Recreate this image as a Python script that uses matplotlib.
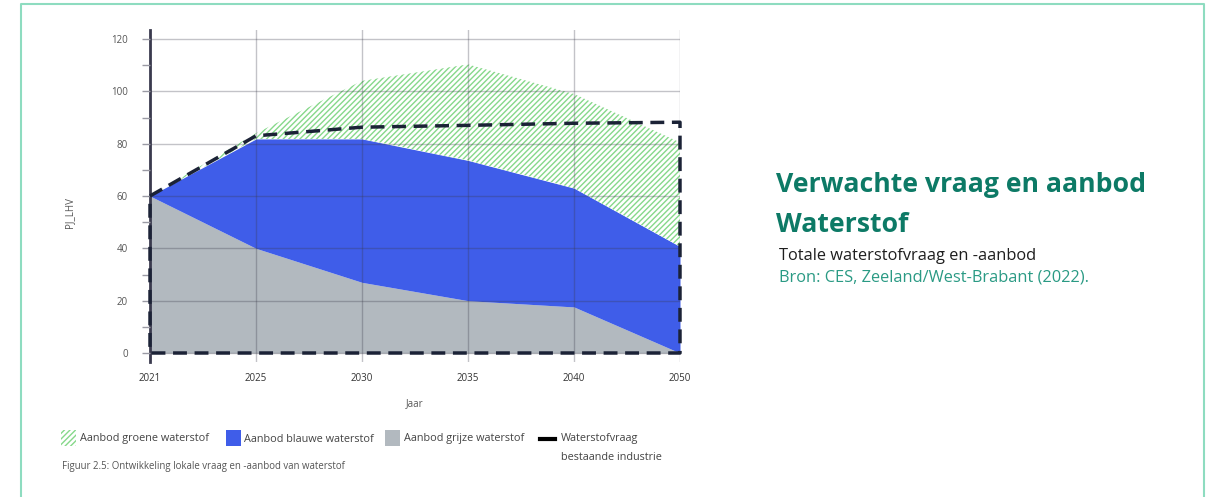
import matplotlib.pyplot as plt
from matplotlib.patches import Rectangle
from matplotlib.lines import Line2D
import numpy as np

jaren = ['2021', '2025', '2030', '2035', '2040', '2050']
grijs = [60, 40, 27, 20, 17.6, 0]
blauw = [0, 41.8, 54.8, 53.6, 45.4, 40.7]
groen = [0, 2.2, 22.2, 36.7, 36, 39.8]
vraag = [60, 83, 86.3, 87, 87.8, 88.2]
y_ticks = [0, 20, 40, 60, 80, 100, 120]

GROEN = '#86d88a'
BLAUW = '#3f5de9'
GRIJS = '#b2b9bf'
DONKER = '#1b2236'
TEKST = '#555555'
LEG = '#444444'

plt.rcParams['font.family'] = ['Open Sans', 'DejaVu Sans']
plt.rcParams['hatch.linewidth'] = 1.0
plt.rcParams['hatch.color'] = GROEN

W, H = 1207, 497
fig = plt.figure(figsize=(W / 100, H / 100), dpi=100)

def px(x, y):
    return x / W, 1 - y / H

# assen: spine van x=150 tot 680, 0 op y=353 en 120 op y=39
ppu = (353 - 39) / 120
y_lo, y_hi = -3.5, 123.5
top = 39 - (y_hi - 120) * ppu
bot = 353 + (0 - y_lo) * ppu
ax = fig.add_axes([150 / W, 1 - bot / H, 530 / W, (bot - top) / H])

x = np.arange(len(jaren))
g = np.array(grijs)
b = g + np.array(blauw)
t = b + np.array(groen)

ax.fill_between(x, 0, g, color=GRIJS, lw=0)
ax.fill_between(x, g, b, color=BLAUW, lw=0)
ax.fill_between(x, b, t, facecolor='white', edgecolor=GROEN, hatch='//////', lw=0)

# vraag lijn, gesloten naar de x-as
vx = list(x) + [x[-1], x[0], x[0]]
vy = vraag + [0, 0, vraag[0]]
ax.plot(vx, vy, color=DONKER, lw=2.5, linestyle=(0, (4, 2.2)), clip_on=False, zorder=4)

ax.set_xlim(0, len(jaren) - 1)
ax.set_ylim(y_lo, y_hi)
ax.set_xticks(x, jaren)
ax.set_yticks(y_ticks)
ax.set_yticks(np.arange(10, 120, 20), minor=True)
ax.set_axisbelow(False)
ax.grid(True, color='#3a3a4a', alpha=0.3, lw=1)

for s in ['top', 'right', 'bottom']:
    ax.spines[s].set_visible(False)
ax.spines['left'].set_color('#3b3b4f')
ax.spines['left'].set_linewidth(2)
ax.tick_params(axis='y', which='both', length=6, width=1, color='#9a9aa4',
               labelsize=7, labelcolor=TEKST, pad=10)
ax.tick_params(axis='x', length=0, labelsize=7, labelcolor='#333333', pad=8)

fig.text(*px(415, 404), 'Jaar', fontsize=7, color=TEKST, ha='center', va='center')
fig.text(*px(70, 213), 'PJ_LHV', fontsize=7, color=TEKST, ha='center', va='center', rotation=90)

# legenda
def patch(x0, kleur, hatch=None):
    r = Rectangle(px(x0, 446), 15 / W, 16 / H, transform=fig.transFigure,
                  facecolor='white' if hatch else kleur, edgecolor=GROEN if hatch else 'none',
                  hatch=hatch, lw=0)
    fig.add_artist(r)

patch(61, GROEN, hatch='//////')
fig.text(*px(80, 439), 'Aanbod groene waterstof', fontsize=7.8, color=LEG, va='center')
patch(226, BLAUW)
fig.text(*px(244, 439), 'Aanbod blauwe waterstof', fontsize=7.8, color=LEG, va='center')
patch(385, GRIJS)
fig.text(*px(404, 439), 'Aanbod grijze waterstof', fontsize=7.8, color=LEG, va='center')
fig.add_artist(Line2D([540 / W, 555 / W], [1 - 439 / H] * 2, transform=fig.transFigure,
                      color='black', lw=3))
fig.text(*px(561, 439), 'Waterstofvraag', fontsize=7.8, color=LEG, va='center')
fig.text(*px(561, 457), 'bestaande industrie', fontsize=7.8, color=LEG, va='center')
fig.text(*px(62, 467), 'Figuur 2.5: Ontwikkeling lokale vraag en -aanbod van waterstof',
         fontsize=6.9, color=TEKST, va='center')

# tekst rechts
fig.text(*px(776, 192), 'Verwachte vraag en aanbod', fontsize=19.2, fontweight='bold',
         color='#0d7a66', va='baseline')
fig.text(*px(776, 232), 'Waterstof', fontsize=19.2, fontweight='bold',
         color='#0d7a66', va='baseline')
fig.text(*px(779, 260), 'Totale waterstofvraag en -aanbod', fontsize=11.8,
         color='#1e1e1e', va='baseline')
fig.text(*px(779, 281), 'Bron: CES, Zeeland/West-Brabant (2022).', fontsize=11.8,
         color='#2a9a84', va='baseline')

# kader
kader = Line2D([21 / W, 21 / W, 1204 / W, 1204 / W], [0, 1 - 4 / H, 1 - 4 / H, 0],
               transform=fig.transFigure, color='#8edcc0', lw=1.5)
fig.add_artist(kader)

fig.savefig('out.png', dpi=100)
